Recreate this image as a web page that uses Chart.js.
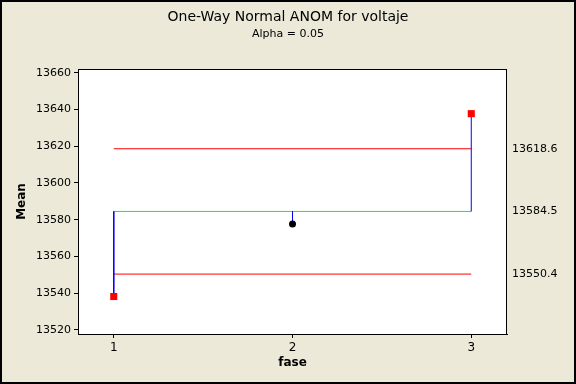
<!DOCTYPE html>
<html>
<head>
<meta charset="utf-8">
<script src="https://cdn.jsdelivr.net/npm/chart.js@4.4.1/dist/chart.umd.min.js"></script>
<style>
  html, body { margin: 0; padding: 0; background: #ECE9D8; }
  #wrap { width: 576px; height: 384px; }
</style>
</head>
<body>
<div id="wrap"><canvas id="myChart"></canvas></div>
<script>
// group labels on the x axis and the group means
const groups = [1, 2, 3];
const means = [13538.2, 13577.6, 13637.7];

// decision limits and center line
const centerLine = 13584.5;
const upperLimit = 13618.6;
const lowerLimit = 13550.4;

// tick labels
const yTicks = [13520, 13540, 13560, 13580, 13600, 13620, 13640, 13660];
const limitTicks = [lowerLimit, centerLine, upperLimit];

const first = groups[0];
const last = groups[groups.length - 1];

function hline(value, color) {
  return {
    type: "line",
    data: [{ x: first, y: value }, { x: last, y: value }],
    borderColor: color,
    borderWidth: 1,
    pointRadius: 0,
    order: 3,
  };
}

// vertical connectors from the center line to each mean
const connectors = groups.map(function (g, i) {
  return {
    type: "line",
    data: [{ x: g, y: centerLine }, { x: g, y: means[i] }],
    borderColor: "#0000FF",
    borderWidth: 1,
    pointRadius: 0,
    order: 2,
  };
});

const outside = means.map(function (m) {
  return m > upperLimit || m < lowerLimit;
});

const meansSet = {
  type: "scatter",
  data: groups.map(function (g, i) { return { x: g, y: means[i] }; }),
  pointStyle: outside.map(function (o) { return o ? "rect" : "circle"; }),
  pointRadius: outside.map(function (o) { return o ? 5 : 3.5; }),
  backgroundColor: outside.map(function (o) { return o ? "#FF0000" : "#000000"; }),
  borderColor: outside.map(function (o) { return o ? "#FF0000" : "#000000"; }),
  borderWidth: 0,
  order: 0,
};

const frame = {
  id: "frame",
  beforeDraw(chart) {
    const c = chart.ctx;
    c.save();
    c.fillStyle = "#ECE9D8";
    c.fillRect(0, 0, chart.width, chart.height);
    const a = chart.chartArea;
    c.fillStyle = "#FFFFFF";
    c.fillRect(a.left, a.top, a.right - a.left, a.bottom - a.top);
    c.restore();
  },
  afterDraw(chart) {
    const c = chart.ctx;
    const a = chart.chartArea;
    c.save();
    c.strokeStyle = "#000";
    c.lineWidth = 1;
    c.strokeRect(a.left + 0.5, a.top + 0.5, a.right - a.left - 1, a.bottom - a.top);
    c.lineWidth = 2;
    c.strokeRect(1, 1, chart.width - 2, chart.height - 2);
    c.restore();
  },
};

Chart.defaults.font.family = "'DejaVu Sans', sans-serif";
Chart.defaults.font.size = 11;
Chart.defaults.color = "#000";

new Chart(document.getElementById("myChart"), {
  data: {
    datasets: [
      hline(upperLimit, "#FF0000"),
      hline(lowerLimit, "#FF0000"),
      hline(centerLine, "#00FF00"),
    ].concat(connectors, [meansSet]),
  },
  options: {
    responsive: true,
    maintainAspectRatio: false,
    animation: false,
    layout: { padding: 0 },
    plugins: {
      legend: { display: false },
      tooltip: { enabled: false },
      title: {
        display: true,
        text: "One-Way Normal ANOM for voltaje",
        font: { size: 14, weight: "normal" },
        padding: { top: 9, bottom: 2 },
      },
      subtitle: {
        display: true,
        text: "Alpha = 0.05",
        font: { size: 11 },
        padding: { top: 0, bottom: 28 },
      },
    },
    scales: {
      x: {
        type: "linear",
        min: 0.8,
        max: 3.2,
        afterBuildTicks: function (s) { s.ticks = groups.map(function (v) { return { value: v }; }); },
        afterFit: function (s) { s.height = 50; },
        grid: { drawOnChartArea: false, drawTicks: true, tickLength: 4, color: "#000" },
        border: { color: "#000" },
        ticks: { padding: 3, font: { size: 12 }, callback: function (v) { return String(v); } },
        title: { display: true, text: "fase", font: { weight: "bold", size: 12 }, padding: { top: 0, bottom: 14 } },
      },
      y: {
        type: "linear",
        position: "left",
        min: 13517.8,
        max: 13662,
        afterBuildTicks: function (s) { s.ticks = yTicks.map(function (v) { return { value: v }; }); },
        afterFit: function (s) { s.width = 78; },
        grid: { drawOnChartArea: false, drawTicks: true, tickLength: 4, color: "#000" },
        border: { color: "#000" },
        ticks: { padding: 3, callback: function (v) { return String(v); } },
        title: { display: true, text: "Mean", font: { weight: "bold", size: 12 }, padding: { top: 15, bottom: 0 } },
      },
      y2: {
        type: "linear",
        position: "right",
        min: 13517.8,
        max: 13662,
        afterBuildTicks: function (s) { s.ticks = limitTicks.map(function (v) { return { value: v }; }); },
        afterFit: function (s) { s.width = 69; },
        grid: { display: false, drawTicks: false },
        border: { display: false },
        ticks: { padding: 5, callback: function (v) { return v.toFixed(1); } },
      },
    },
  },
  plugins: [frame],
});
</script>
</body>
</html>
